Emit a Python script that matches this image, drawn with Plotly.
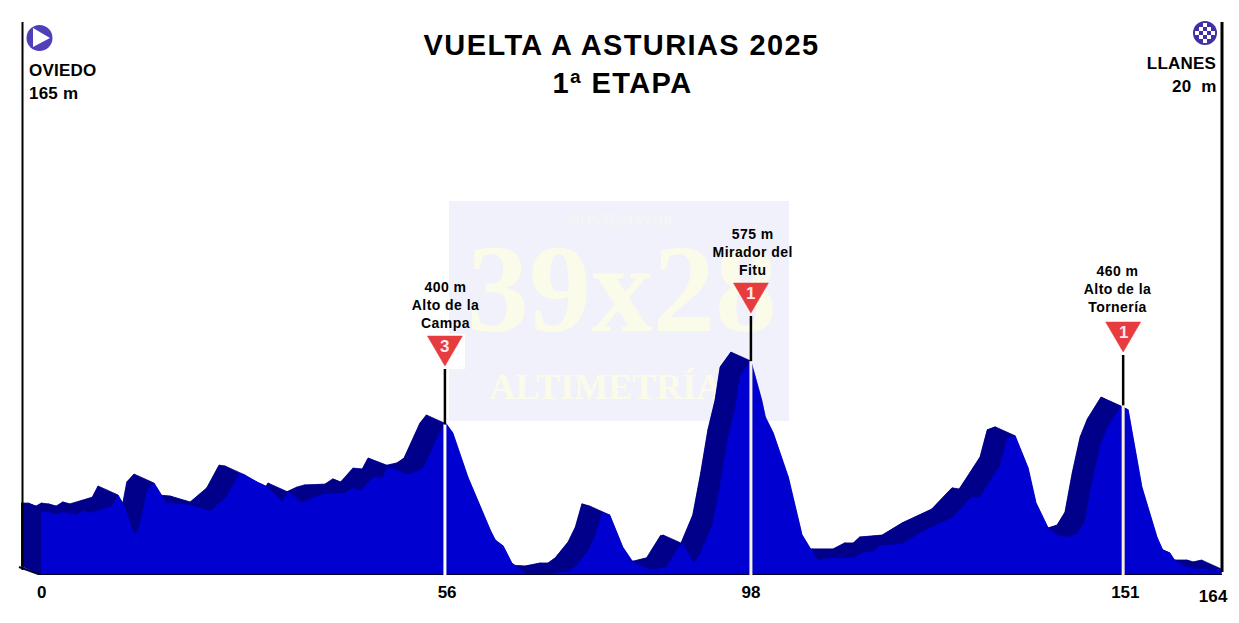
import plotly.graph_objects as go

# Stage profile: distance (km) and altitude (m)
km = [0, 1.0, 2.1, 2.8, 3.8, 4.9, 5.8, 6.8, 8.2, 9.9, 10.7, 11.5, 12.9, 13.5, 14.2, 14.7, 15.7, 17.4, 18.9, 20.7,
      23.5, 25.8, 27.5, 28.3, 30.0, 31.4, 33.5, 34.3, 36.3, 38.3, 39.4, 42.2, 43.3, 44.4, 46.1, 47.4, 48.2, 50.8,
      52.2, 53.2, 55.4, 56.3, 57.2, 59.3, 62.4, 63.1, 64.2, 65.4, 66.3, 67.4, 70.0, 72.1, 73.2, 74.2, 76.0, 77.0,
      77.9, 79.0, 80.8, 82.2, 83.9, 85.0, 86.9, 88.8, 89.2, 90.6, 91.5, 93.3, 94.4, 95.4, 96.4, 97.1, 98.6, 100.1,
      100.6, 101.7, 103.8, 105.7, 106.8, 107.9, 109.9, 112.8, 114.4, 115.6, 116.5, 119.6, 122.4, 126.5, 128.6,
      129.3, 130.3, 131.4, 133.2, 134.2, 135.3, 137.1, 138.2, 139.9, 141.3, 142.6, 143.9, 145.0, 146.0, 147.1,
      148.1, 150.0, 151.0, 152.9, 155.0, 155.8, 156.8, 157.5, 158.9, 160.3, 161.9, 162.8, 164.0]
alt = [169, 169, 161, 169, 167, 161, 172, 167, 175, 185, 215, 188, 110, 121, 175, 226, 247, 194, 191, 188,
       172, 210, 271, 269, 250, 237, 196, 223, 194, 212, 218, 220, 234, 226, 263, 261, 290, 271,
       277, 290, 384, 406, 382, 263, 121, 94, 78, 32, 19, 3, 0, 8, 8, 22, 65, 105,
       167, 161, 75, 35, 19, 13, 22, 81, 83, 32, 54, 137, 250, 366, 446, 535, 575, 470,
       425, 382, 263, 108, 73, 40, 46, 46, 62, 62, 78, 83, 116, 153, 196,
       210, 207, 239, 293, 366, 374, 288, 194, 126, 105, 102, 110, 145, 250, 347,
       395, 454, 444, 237, 102, 67, 59, 38, 22, 16, 16, 11, 16]

tick_km = [0.1, 56.4, 98.6, 150.6]
tick_text = ["0", "56", "98", "151"]
last_km = 164

climb_km = [56.1, 98.6, 150.3]
climb_alt = [405, 575, 456]
climb_cat = ["3", "1", "1"]
climb_text = ["400 m<br>Alto de la<br>Campa", "575 m<br>Mirador del<br>Fitu", "460 m<br>Alto de la<br>Tornería"]

W, H = 1239, 623
BASE_PX = 575
KM_PX = 7.2
M_PX = 0.372
ZERO_PX = 41
FRONT = "#0000d0"
BACK = "#00008b"
RED = "#e63b3f"

def X(px):
    return (px - ZERO_PX) / KM_PX

def Y(py):
    return (BASE_PX - py) / M_PX

DX = 20 / KM_PX
DY = 9 / M_PX

# rear copy of the profile, shifted up and left
back_x = [v - DX for v in km] + [km[-1], km[0], km[0] - DX]
back_y = [v + DY for v in alt] + [0, 0, DY]

# side faces joining the rear copy to the front profile, all wound the same way
band_x, band_y = [], []
for i in range(len(km) - 1):
    a, b = (i, i + 1)
    dx_seg, dy_seg = km[b] - km[a], alt[b] - alt[a]
    if dx_seg * DY + dy_seg * DX < 0:
        a, b = b, a
    band_x += [km[a], km[b], km[b] - DX, km[a] - DX, km[a], None]
    band_y += [alt[a], alt[b], alt[b] + DY, alt[a] + DY, alt[a], None]

fig = go.Figure()

# watermark text, below the profile
WM = "#fbfbe9"
fig.add_trace(go.Scatter(x=[X(622)], y=[Y(300)], mode="text", text=["39x28"], hoverinfo="skip",
                         textfont=dict(family="Liberation Serif", size=124, color=WM, weight="bold")))
fig.add_trace(go.Scatter(x=[X(616)], y=[Y(390)], mode="text", text=["ALTIMETRÍAS"], hoverinfo="skip",
                         textfont=dict(family="Liberation Serif", size=36, color=WM, weight="bold")))
fig.add_trace(go.Scatter(x=[X(620)], y=[Y(221)], mode="text", text=["MONTEMAYOR"], hoverinfo="skip",
                         textfont=dict(family="Liberation Serif", size=14, color="#f5f5f3", weight="bold")))

fig.add_trace(go.Scatter(x=back_x, y=back_y, mode="lines", fill="toself", fillcolor=BACK,
                         line=dict(color=BACK, width=0.5), name="relieve", hoverinfo="skip"))
fig.add_trace(go.Scatter(x=band_x, y=band_y, mode="lines", fill="toself", fillcolor=BACK,
                         line=dict(color=BACK, width=0.5), name="cara", hoverinfo="skip"))
fig.add_trace(go.Scatter(x=km, y=alt, mode="lines", fill="tozeroy", fillcolor=FRONT,
                         line=dict(color=FRONT, width=0.5), name="altitud"))

shapes = [
    dict(type="rect", layer="below", x0=X(449), x1=X(789), y0=Y(421), y1=Y(201),
         fillcolor="#f1f1fc", line_width=0),
    dict(type="rect", layer="below", x0=X(425), x1=X(465), y0=Y(369), y1=Y(334),
         fillcolor="white", line_width=0),
    dict(type="line", x0=X(22.5), x1=X(22.5), y0=Y(570), y1=Y(22), line=dict(color="black", width=2)),
    dict(type="line", x0=X(1222), x1=X(1222), y0=Y(572), y1=Y(22), line=dict(color="black", width=3)),
    dict(type="line", x0=0, x1=km[-1], y0=0, y1=0, line=dict(color="#00002e", width=2)),
    dict(type="line", x0=X(19), x1=0, y0=Y(567), y1=0, line=dict(color="#00002e", width=2)),
]

SIGN_TOP = [336, 283, 322]
LINE_COL = ["#ffffff", "#f7f0da", "#f7f0da"]
for c_km, c_alt, top, col in zip(climb_km, climb_alt, SIGN_TOP, LINE_COL):
    shapes.append(dict(type="line", x0=c_km, x1=c_km, y0=0, y1=c_alt, line=dict(color=col, width=3)))
    shapes.append(dict(type="line", x0=c_km, x1=c_km, y0=c_alt, y1=Y(top + 33), line=dict(color="black", width=2.5)))
    shapes.append(dict(type="path", xsizemode="pixel", ysizemode="pixel", xanchor=c_km, yanchor=Y(top),
                       path="M -17.5 0 L 17.5 0 L 0 -30 Z", fillcolor=RED, line=dict(color=RED, width=0.5)))

# start icon
shapes.append(dict(type="circle", xref="x", yref="y", x0=X(26.5), x1=X(52.5), y0=Y(51), y1=Y(25),
                   fillcolor="#5040b8", line_width=0))
shapes.append(dict(type="path", xsizemode="pixel", ysizemode="pixel", xanchor=X(33), yanchor=Y(38),
                   path="M 0 10 L 17 0 L 0 -9 Z", fillcolor="white", line_width=0))
# finish icon
shapes.append(dict(type="circle", x0=X(1193), x1=X(1217), y0=Y(45), y1=Y(21),
                   fillcolor="#4030a8", line_width=0))
STEP = 4
for i in range(-3, 4):
    for j in range(-3, 4):
        if (i + j) % 2 == 0 and (i * i + j * j) * STEP * STEP <= 100:
            cx, cy = 1205 + i * STEP, 33 + j * STEP
            shapes.append(dict(type="rect", x0=X(cx - 2), x1=X(cx + 2), y0=Y(cy + 2), y1=Y(cy - 2),
                               fillcolor="white", line_width=0))

BOLD = "Liberation Sans"
def note(px, py, text, size=17, anchor="center", color="black"):
    return dict(x=X(px), y=Y(py), text="<b>%s</b>" % text, showarrow=False, xanchor=anchor, yanchor="middle",
                font=dict(family=BOLD, size=size, color=color),
                align="right" if anchor == "right" else ("left" if anchor == "left" else "center"))

annotations = [
    note(621, 45, "VUELTA A ASTURIAS 2025", size=29),
    note(622, 83, "1ª ETAPA", size=29),
    note(27, 70, "OVIEDO", anchor="left"),
    note(27, 93, "165 m", anchor="left"),
    note(1218, 63, "LLANES", anchor="right"),
    note(1218, 86, "20  m", anchor="right"),
    note(445, 305, climb_text[0], size=14),
    note(752, 252, climb_text[1], size=14),
    note(1117, 289, climb_text[2], size=14),
    dict(x=X(1213), y=0, yshift=-21, text="<b>%d</b>" % last_km, showarrow=False, yanchor="middle",
         font=dict(family=BOLD, size=17, color="black")),
]
for c_km, top, cat in zip(climb_km, SIGN_TOP, climb_cat):
    annotations.append(dict(x=c_km, y=Y(top + 10), text="<b>%s</b>" % cat, showarrow=False,
                            font=dict(family=BOLD, size=17, color="#ffe9e9")))

fig.update_layout(
    width=W, height=H, margin=dict(l=0, r=0, t=0, b=H - BASE_PX, pad=0),
    paper_bgcolor="white", plot_bgcolor="white", showlegend=False, hovermode=False,
    xaxis=dict(range=[X(0), X(W)], showgrid=False, zeroline=False, showline=False,
               tickmode="array", tickvals=tick_km, ticktext=tick_text, ticks="outside", ticklen=2,
               tickcolor="rgba(0,0,0,0)", tickfont=dict(family=BOLD, size=17, color="black", weight="bold")),
    yaxis=dict(range=[0, Y(0)], showgrid=False, zeroline=False, showline=False, showticklabels=False, ticks=""),
    shapes=shapes, annotations=annotations,
)

script = """
document.body.style.margin='0';
document.querySelectorAll('.annotation-text').forEach(function(t){
  var s=parseFloat(t.style.fontSize)||0;
  t.style.letterSpacing = s>=25 ? '1.4px' : (s>=15 ? '0.2px' : '0.45px');
});
"""
fig.write_html("out.html", config={"displayModeBar": False}, post_script=script)
